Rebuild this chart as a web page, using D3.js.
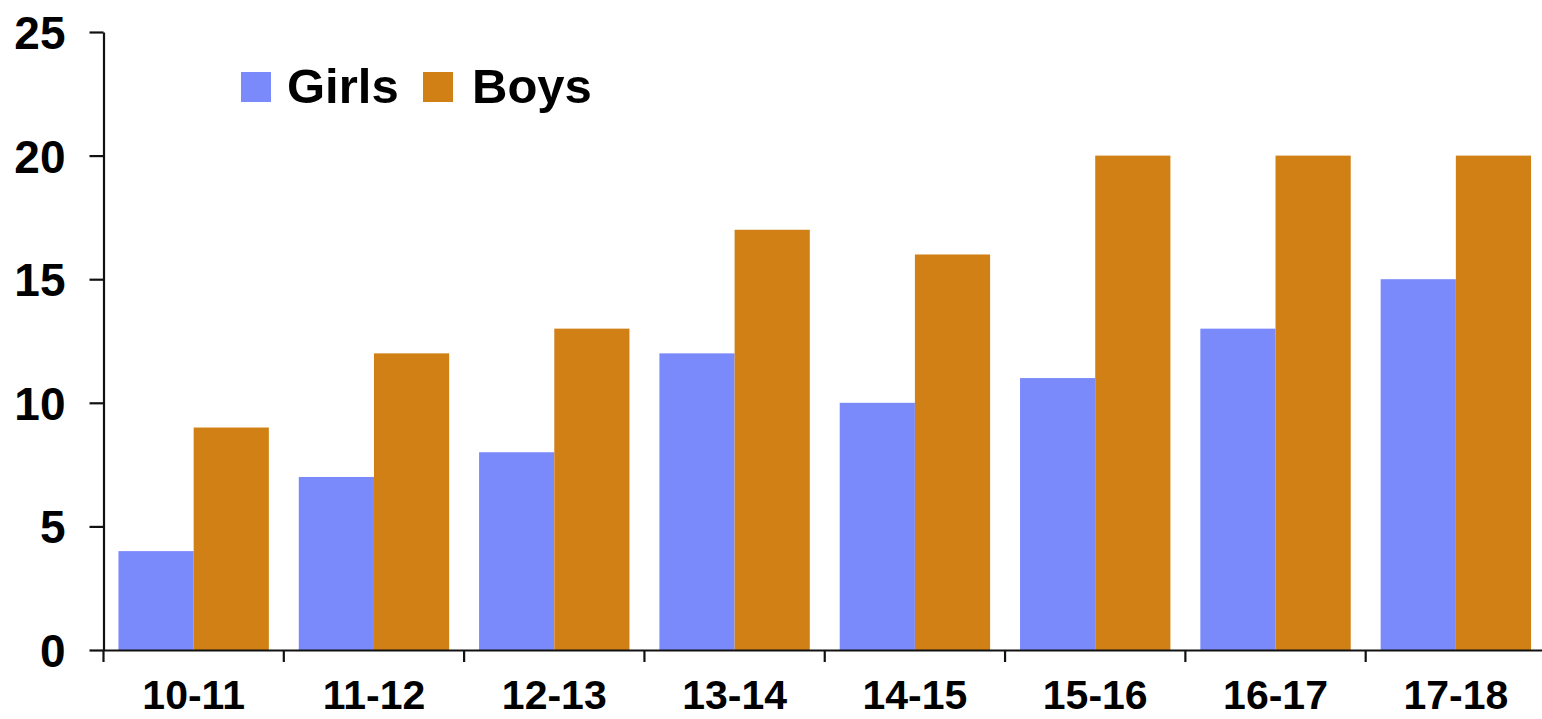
<!DOCTYPE html>
<html>
<head>
<meta charset="utf-8">
<script src="https://cdn.jsdelivr.net/npm/d3@7"></script>
<style>
  html, body { margin: 0; padding: 0; background: #fff; }
  svg { display: block; }
  text { font-family: "Liberation Sans", Arial, sans-serif; font-weight: bold; fill: #000; }
</style>
</head>
<body>
<svg id="chart" width="1542" height="719"></svg>
<script>
// Age groups and counts per group
const ageGroups = ["10-11", "11-12", "12-13", "13-14", "14-15", "15-16", "16-17", "17-18"];
const girls = [4, 7, 8, 12, 10, 11, 13, 15];
const boys  = [9, 12, 13, 17, 16, 20, 20, 20];
const seriesNames = ["Girls", "Boys"];
const yTicks = [0, 5, 10, 15, 20, 25];

const colors = { Girls: "#7a8afb", Boys: "#d18015" };

const svg = d3.select("#chart");
const plotLeft = 103.5, plotRight = 1546, plotTop = 32, plotBottom = 650;

const x0 = d3.scaleBand().domain(ageGroups).range([plotLeft, plotRight]).padding(0);
const bw = x0.bandwidth();
const x1 = d3.scaleBand().domain(seriesNames).range([bw * 0.083, bw * 0.917]).padding(0);
const y = d3.scaleLinear().domain([0, 25]).range([plotBottom, plotTop]);

const rows = ageGroups.map((g, i) => ({ group: g, Girls: girls[i], Boys: boys[i] }));

// Bars
const groups = svg.append("g").selectAll("g")
  .data(rows).join("g")
  .attr("transform", d => `translate(${x0(d.group)},0)`);

groups.selectAll("rect")
  .data(d => seriesNames.map(s => ({ key: s, value: d[s] })))
  .join("rect")
  .attr("x", d => x1(d.key))
  .attr("width", x1.bandwidth())
  .attr("y", d => y(d.value))
  .attr("height", d => y(0) - y(d.value))
  .attr("fill", d => colors[d.key]);

// Y axis
const yAxis = svg.append("g")
  .attr("transform", `translate(${plotLeft},0)`)
  .call(d3.axisLeft(y).tickValues(yTicks).tickSize(14).tickSizeOuter(0).tickPadding(24));
yAxis.select(".domain").attr("stroke", "#111").attr("stroke-width", 2.2);
yAxis.selectAll(".tick line").attr("stroke", "#111").attr("stroke-width", 2.2);
yAxis.selectAll(".tick text")
  .style("font-size", "46px")
  .attr("fill", "#000")
  .attr("dy", "0.36em");

// X axis: labels centred on each band, ticks at band boundaries
const xAxis = svg.append("g")
  .attr("transform", `translate(0,${plotBottom})`)
  .call(d3.axisBottom(x0).tickSize(0).tickPadding(30).tickSizeOuter(0));
xAxis.select(".domain").attr("stroke", "#111").attr("stroke-width", 2.2);
xAxis.selectAll(".tick text")
  .style("font-size", "41px")
  .attr("fill", "#000");

xAxis.selectAll(".bound")
  .data(ageGroups.concat(["end"]))
  .join("line")
  .attr("class", "bound")
  .attr("x1", (d, i) => plotLeft + i * bw)
  .attr("x2", (d, i) => plotLeft + i * bw)
  .attr("y1", 0)
  .attr("y2", 12)
  .attr("stroke", "#111")
  .attr("stroke-width", 2.2);

// Legend
const legend = svg.append("g").attr("transform", "translate(241,72)");
const legendItems = legend.selectAll("g")
  .data(seriesNames).join("g")
  .attr("transform", (d, i) => `translate(${i * 182},0)`);
legendItems.append("rect")
  .attr("width", 30).attr("height", 30)
  .attr("fill", d => colors[d]);
legendItems.append("text")
  .attr("x", (d, i) => i === 0 ? 46 : 49)
  .attr("y", 31)
  .style("font-size", "49px")
  .text(d => d);
</script>
</body>
</html>
